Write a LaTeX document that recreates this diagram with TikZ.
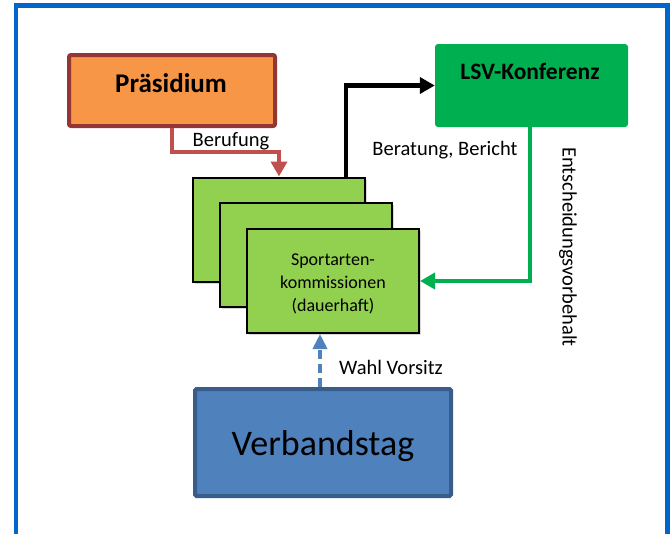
\documentclass[tikz,border=0pt]{standalone}
\usepackage{fontspec}
\setmainfont{Carlito}
\usetikzlibrary{arrows.meta,shadows}
\definecolor{frameblue}{HTML}{0066CC}
\definecolor{orangefill}{HTML}{F79646}
\definecolor{orangeline}{HTML}{943634}
\definecolor{lsvgreen}{HTML}{00B050}
\definecolor{boxgreen}{HTML}{92D050}
\definecolor{verbfill}{HTML}{4F81BD}
\definecolor{verbline}{HTML}{385D8A}
\definecolor{redarrow}{HTML}{C0504D}
\definecolor{bluearrow}{HTML}{4F81BD}
\tikzset{
  kombox/.style={draw=black, line width=2pt, fill=boxgreen, minimum width=172pt, minimum height=104pt, inner sep=0pt,
    drop shadow={shadow xshift=1.5pt, shadow yshift=-2pt, opacity=0.3}},
  lbl/.style={font=\fontsize{20.5}{24}\selectfont, inner sep=0pt, anchor=base},
  conn/.style={line width=4.5pt, -{Triangle[length=15pt,width=16pt]}},
}
\begin{document}
\begin{tikzpicture}[x=1pt,y=-1pt]
\useasboundingbox (0,0) rectangle (671,533);
\clip (0,0) rectangle (671,533);
\draw[frameblue, line width=4.5pt] (16,5.5) rectangle (667.5,548);

% Praesidium
\node[draw=orangeline, fill=orangefill, line width=4pt, rounded corners=2pt, minimum width=206pt, minimum height=71pt, inner sep=0pt] (praes) at (172,90.5) {};
\node[font=\fontsize{27}{32}\selectfont\bfseries, inner sep=0pt, anchor=base] (praest) at (171,92.3) {Präsidium};

% LSV-Konferenz
\node[fill=lsvgreen, rounded corners=3pt, minimum width=193pt, minimum height=83pt, inner sep=0pt] (lsv) at (531.5,85.5) {};
\node[font=\fontsize{23.5}{28}\selectfont\bfseries, inner sep=0pt, anchor=base] (lsvt) at (530,79.5) {LSV-Konferenz};

% stacked commission boxes
\node[kombox] (b1) at (279,229.5) {};
\node[kombox] (b2) at (306,255) {};
\node[kombox] (b3) at (333,281) {};
\node[font=\fontsize{18}{23}\selectfont, align=center, inner sep=0pt] (b3t) at (333,284) {Sportarten-\\kommissionen\\(dauerhaft)};

% Verbandstag
\node[draw=verbline, fill=verbfill, line width=4pt, rounded corners=1.5pt, minimum width=256pt, minimum height=107pt, inner sep=0pt,
  drop shadow={shadow xshift=1pt, shadow yshift=-1.5pt, opacity=0.25}] (verb) at (323,442.5) {};
\node[font=\fontsize{36}{42}\selectfont, inner sep=0pt, anchor=base] (verbt) at (323,455) {Verbandstag};

% connectors
\draw[conn, redarrow] (praes.south) -- (praes.south |- 0,152) -| (b1.north);
\draw[conn, black] ([xshift=-20pt]b1.north east) |- (lsv.west);
\draw[conn, lsvgreen] ([xshift=-1.5pt]lsv.south) |- (b3.east);
\draw[line width=4.5pt, bluearrow, dash pattern=on 9pt off 5pt] ([xshift=-3pt]verb.north) -- ([xshift=-3pt, yshift=-16pt]verb.north |- b3.south);
\draw[line width=4.5pt, bluearrow, -{Triangle[length=15pt,width=14pt]}] ([xshift=-3pt, yshift=-12pt]verb.north |- b3.south) -- ([xshift=-3pt]verb.north |- b3.south);

% labels
\node[lbl] (lberuf) at (231,146) {Berufung};
\node[lbl] (lberat) at (445,155) {Beratung, Bericht};
\node[lbl] (lwahl) at (391,374) {Wahl Vorsitz};
\node[font=\fontsize{20.5}{24}\selectfont, inner sep=0pt, rotate=-90] (lent) at (568,247) {Entscheidungsvorbehalt};
\end{tikzpicture}
\end{document}
